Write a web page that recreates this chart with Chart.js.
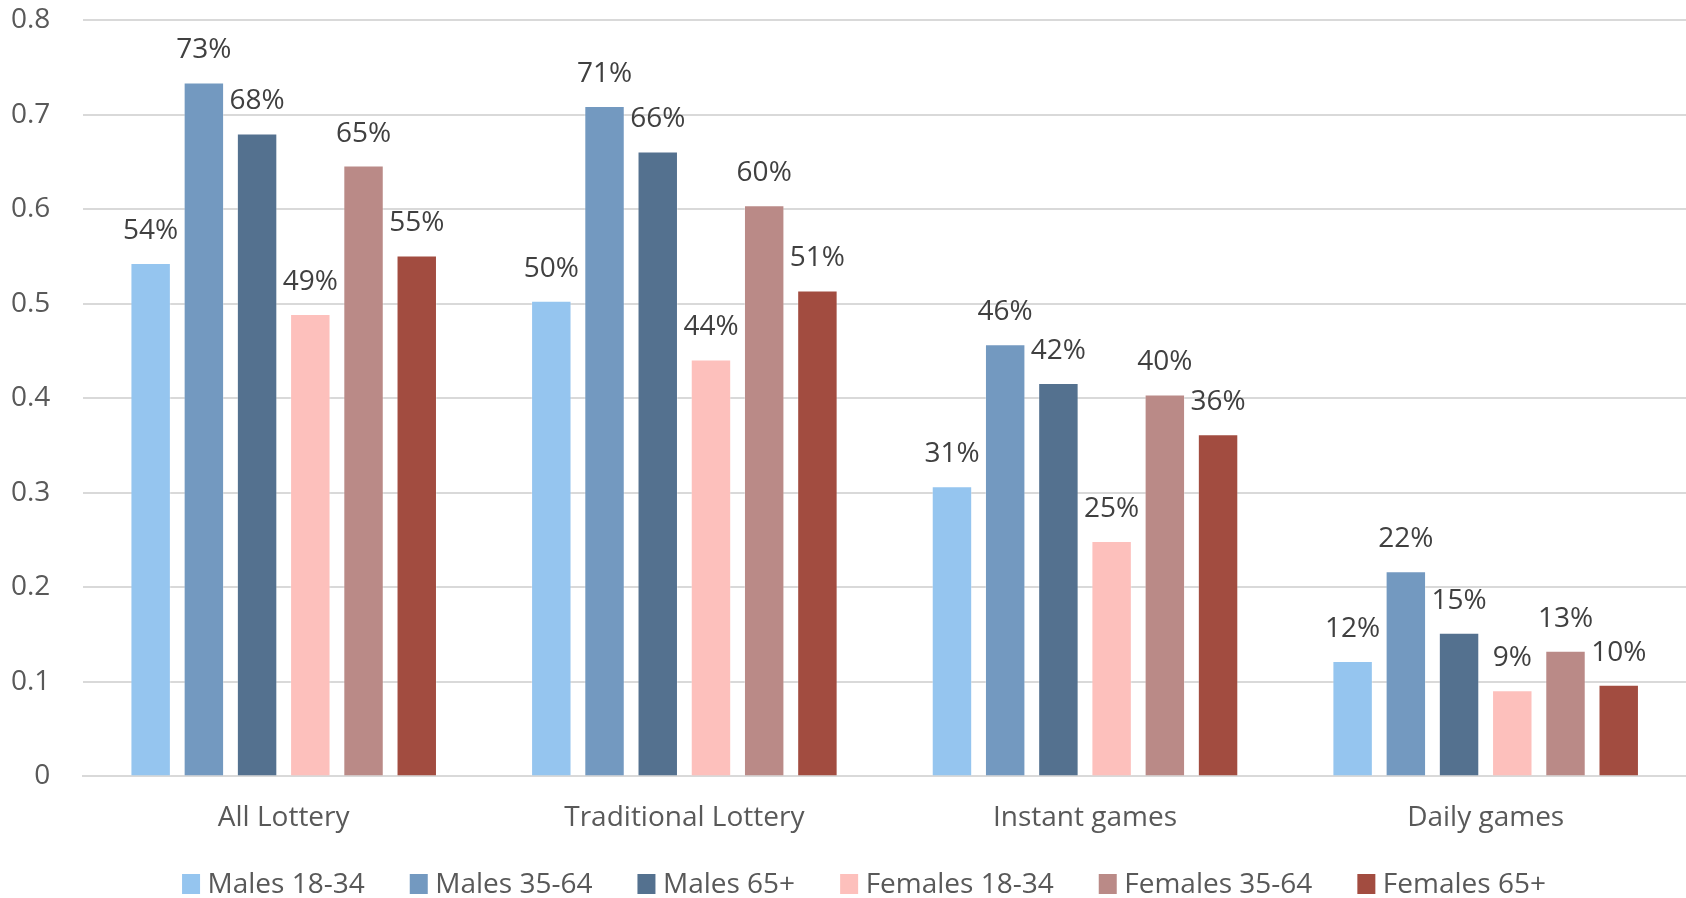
<!DOCTYPE html>
<html>
<head>
<meta charset="utf-8">
<script src="https://cdn.jsdelivr.net/npm/chart.js@4.4.1/dist/chart.umd.min.js"></script>
<style>
  html, body { margin: 0; padding: 0; background: #ffffff; }
  #wrap { width: 1686px; height: 898px; position: relative; }
</style>
</head>
<body>
<div id="wrap"><canvas id="c" width="1686" height="898"></canvas></div>
<script>
const categories = ['All Lottery', 'Traditional Lottery', 'Instant games', 'Daily games'];
const seriesNames = ['Males 18-34', 'Males 35-64', 'Males 65+', 'Females 18-34', 'Females 35-64', 'Females 65+'];
const males1834   = [0.543, 0.503, 0.307, 0.122];
const males3564   = [0.734, 0.709, 0.457, 0.217];
const males65     = [0.680, 0.661, 0.416, 0.152];
const females1834 = [0.489, 0.441, 0.249, 0.091];
const females3564 = [0.646, 0.604, 0.404, 0.133];
const females65   = [0.551, 0.514, 0.362, 0.097];
const yTickLabels = ['0', '0.1', '0.2', '0.3', '0.4', '0.5', '0.6', '0.7', '0.8'];
const seriesColors = ['#95C5EF', '#7399C0', '#54718F', '#FDC0BC', '#BA8A87', '#A24C40'];

const seriesValues = [males1834, males3564, males65, females1834, females3564, females65];

const FONT = '"Open Sans", "DejaVu Sans", sans-serif';

const valueLabels = {
  id: 'valueLabels',
  afterDatasetsDraw(chart) {
    const ctx = chart.ctx;
    ctx.save();
    ctx.font = '28px ' + FONT;
    ctx.fillStyle = '#404040';
    ctx.textAlign = 'center';
    ctx.textBaseline = 'alphabetic';
    chart.data.datasets.forEach((ds, di) => {
      const meta = chart.getDatasetMeta(di);
      meta.data.forEach((bar, i) => {
        const txt = Math.round(ds.data[i] * 100) + '%';
        ctx.fillText(txt, bar.x, bar.y - 24);
      });
    });
    ctx.restore();
  }
};

const customLegend = {
  id: 'customLegend',
  afterDraw(chart) {
    const ctx = chart.ctx;
    ctx.save();
    ctx.font = '28px ' + FONT;
    ctx.textBaseline = 'middle';
    ctx.textAlign = 'left';
    const boxW = 18, boxH = 20, textOff = 25.5, itemGap = 45;
    const ds = chart.data.datasets;
    let total = 0;
    ds.forEach((d, i) => {
      total += textOff + ctx.measureText(d.label).width + (i < ds.length - 1 ? itemGap : 0);
    });
    const cy = 884;
    let x = 864 - total / 2;
    ds.forEach((d) => {
      ctx.fillStyle = d.backgroundColor;
      ctx.fillRect(x, cy - boxH / 2, boxW, boxH);
      ctx.fillStyle = '#595959';
      ctx.fillText(d.label, x + textOff, cy + 1);
      x += textOff + ctx.measureText(d.label).width + itemGap;
    });
    ctx.restore();
  }
};

new Chart(document.getElementById('c'), {
  type: 'bar',
  data: {
    labels: categories,
    datasets: seriesNames.map((name, i) => ({
      label: name,
      data: seriesValues[i],
      backgroundColor: seriesColors[i],
      borderColor: 'rgba(255,255,255,0.3)',
      borderWidth: 1,
      categoryPercentage: 0.797,
      barPercentage: 0.76
    }))
  },
  options: {
    responsive: false,
    animation: false,
    devicePixelRatio: 1,
    layout: { padding: { left: 8, right: 0, top: 20, bottom: 38 } },
    plugins: {
      legend: { display: false },
      tooltip: { enabled: false }
    },
    scales: {
      x: {
        grid: { display: false, drawTicks: false },
        border: { display: true, color: '#D9D9D9', width: 2 },
        ticks: { color: '#595959', font: { family: FONT, size: 28 }, padding: 25 }
      },
      y: {
        min: 0,
        max: 0.8,
        grid: { color: '#D9D9D9', lineWidth: 2, drawTicks: true, tickLength: 30, tickColor: 'rgba(0,0,0,0)' },
        border: { display: false },
        ticks: {
          stepSize: 0.1,
          color: '#595959',
          font: { family: FONT, size: 28 },
          padding: 3,
          callback: (v, i) => yTickLabels[i]
        }
      }
    }
  },
  plugins: [valueLabels, customLegend]
});
</script>
</body>
</html>
